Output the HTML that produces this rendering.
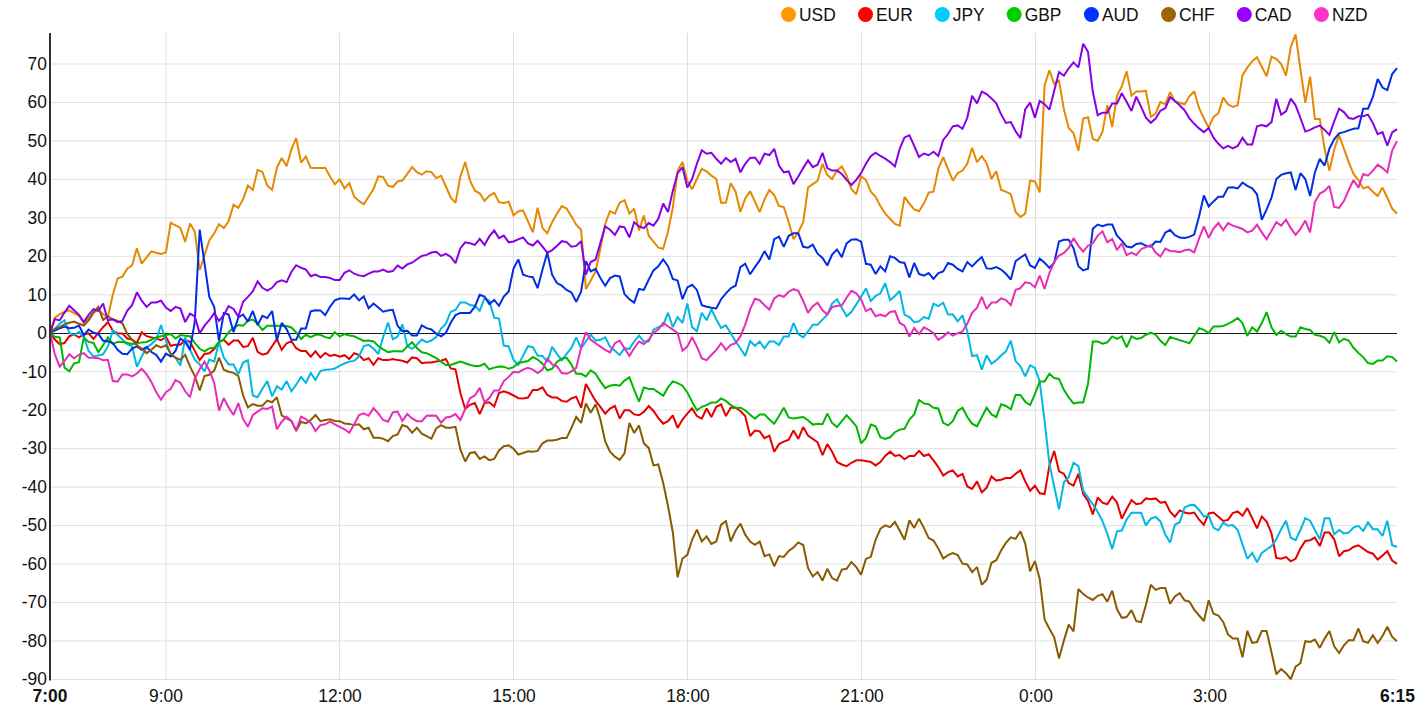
<!DOCTYPE html>
<html><head><meta charset="utf-8"><style>
html,body{margin:0;padding:0;background:#fff;width:1419px;height:710px;overflow:hidden}
svg{display:block}
.t{font-family:"Liberation Sans",sans-serif;font-size:17.4px;fill:#111}
.b{font-weight:bold}
</style></head><body>
<svg width="1419" height="710" viewBox="0 0 1419 710">
<line x1="166.0" y1="33" x2="166.0" y2="680" stroke="#e0e0e0" stroke-width="1"/>
<line x1="339.5" y1="33" x2="339.5" y2="680" stroke="#e0e0e0" stroke-width="1"/>
<line x1="513.5" y1="33" x2="513.5" y2="680" stroke="#e0e0e0" stroke-width="1"/>
<line x1="687.5" y1="33" x2="687.5" y2="680" stroke="#e0e0e0" stroke-width="1"/>
<line x1="861.5" y1="33" x2="861.5" y2="680" stroke="#e0e0e0" stroke-width="1"/>
<line x1="1035.5" y1="33" x2="1035.5" y2="680" stroke="#e0e0e0" stroke-width="1"/>
<line x1="1209.5" y1="33" x2="1209.5" y2="680" stroke="#e0e0e0" stroke-width="1"/>
<line x1="51" y1="679.5" x2="1397" y2="679.5" stroke="#e0e0e0" stroke-width="1"/>
<line x1="51" y1="641.03" x2="1397" y2="641.03" stroke="#e0e0e0" stroke-width="1"/>
<line x1="51" y1="602.56" x2="1397" y2="602.56" stroke="#e0e0e0" stroke-width="1"/>
<line x1="51" y1="564.09" x2="1397" y2="564.09" stroke="#e0e0e0" stroke-width="1"/>
<line x1="51" y1="525.62" x2="1397" y2="525.62" stroke="#e0e0e0" stroke-width="1"/>
<line x1="51" y1="487.15" x2="1397" y2="487.15" stroke="#e0e0e0" stroke-width="1"/>
<line x1="51" y1="448.68" x2="1397" y2="448.68" stroke="#e0e0e0" stroke-width="1"/>
<line x1="51" y1="410.21" x2="1397" y2="410.21" stroke="#e0e0e0" stroke-width="1"/>
<line x1="51" y1="371.74" x2="1397" y2="371.74" stroke="#e0e0e0" stroke-width="1"/>
<line x1="51" y1="294.8" x2="1397" y2="294.8" stroke="#e0e0e0" stroke-width="1"/>
<line x1="51" y1="256.33" x2="1397" y2="256.33" stroke="#e0e0e0" stroke-width="1"/>
<line x1="51" y1="217.86" x2="1397" y2="217.86" stroke="#e0e0e0" stroke-width="1"/>
<line x1="51" y1="179.39" x2="1397" y2="179.39" stroke="#e0e0e0" stroke-width="1"/>
<line x1="51" y1="140.92" x2="1397" y2="140.92" stroke="#e0e0e0" stroke-width="1"/>
<line x1="51" y1="102.45" x2="1397" y2="102.45" stroke="#e0e0e0" stroke-width="1"/>
<line x1="51" y1="63.98" x2="1397" y2="63.98" stroke="#e0e0e0" stroke-width="1"/>
<text transform="translate(46.8,685.30) scale(1,1.06)" text-anchor="end" class="t">-90</text>
<text transform="translate(46.8,646.83) scale(1,1.06)" text-anchor="end" class="t">-80</text>
<text transform="translate(46.8,608.36) scale(1,1.06)" text-anchor="end" class="t">-70</text>
<text transform="translate(46.8,569.89) scale(1,1.06)" text-anchor="end" class="t">-60</text>
<text transform="translate(46.8,531.42) scale(1,1.06)" text-anchor="end" class="t">-50</text>
<text transform="translate(46.8,492.95) scale(1,1.06)" text-anchor="end" class="t">-40</text>
<text transform="translate(46.8,454.48) scale(1,1.06)" text-anchor="end" class="t">-30</text>
<text transform="translate(46.8,416.01) scale(1,1.06)" text-anchor="end" class="t">-20</text>
<text transform="translate(46.8,377.54) scale(1,1.06)" text-anchor="end" class="t">-10</text>
<text transform="translate(46.8,339.07) scale(1,1.06)" text-anchor="end" class="t">0</text>
<text transform="translate(46.8,300.60) scale(1,1.06)" text-anchor="end" class="t">10</text>
<text transform="translate(46.8,262.13) scale(1,1.06)" text-anchor="end" class="t">20</text>
<text transform="translate(46.8,223.66) scale(1,1.06)" text-anchor="end" class="t">30</text>
<text transform="translate(46.8,185.19) scale(1,1.06)" text-anchor="end" class="t">40</text>
<text transform="translate(46.8,146.72) scale(1,1.06)" text-anchor="end" class="t">50</text>
<text transform="translate(46.8,108.25) scale(1,1.06)" text-anchor="end" class="t">60</text>
<text transform="translate(46.8,69.78) scale(1,1.06)" text-anchor="end" class="t">70</text>
<text transform="translate(50.0,702.0) scale(1,1.06)" text-anchor="middle" class="t b">7:00</text>
<text transform="translate(166.0,702.0) scale(1,1.06)" text-anchor="middle" class="t">9:00</text>
<text transform="translate(340.0,702.0) scale(1,1.06)" text-anchor="middle" class="t">12:00</text>
<text transform="translate(514.0,702.0) scale(1,1.06)" text-anchor="middle" class="t">15:00</text>
<text transform="translate(688.0,702.0) scale(1,1.06)" text-anchor="middle" class="t">18:00</text>
<text transform="translate(862.0,702.0) scale(1,1.06)" text-anchor="middle" class="t">21:00</text>
<text transform="translate(1036.0,702.0) scale(1,1.06)" text-anchor="middle" class="t">0:00</text>
<text transform="translate(1210.0,702.0) scale(1,1.06)" text-anchor="middle" class="t">3:00</text>
<text transform="translate(1397.5,702.0) scale(1,1.06)" text-anchor="middle" class="t b">6:15</text>
<line x1="51" y1="333.5" x2="1397" y2="333.5" stroke="#1a1a1a" stroke-width="1"/>
<polyline points="50.0,332.8 54.8,317.6 59.7,314.2 64.5,312.0 69.3,310.3 74.1,313.1 79.0,315.9 83.8,322.7 88.6,318.2 93.5,312.6 98.3,309.7 103.1,314.2 107.9,317.1 112.8,294.7 117.6,278.5 122.4,276.8 127.2,268.8 132.1,265.4 136.9,248.2 141.7,263.7 146.6,257.3 151.4,251.3 156.2,252.7 161.0,254.0 165.9,252.4 170.7,222.9 175.5,225.4 180.4,227.9 185.2,241.8 190.0,223.4 194.8,231.7 199.7,270.2 204.5,255.3 209.3,240.4 214.2,233.3 219.0,224.3 223.8,228.0 228.6,221.4 233.5,204.9 238.3,207.9 243.1,199.2 247.9,185.6 252.8,189.9 257.6,169.8 262.4,171.9 267.3,185.6 272.1,189.9 276.9,167.7 281.7,157.9 286.6,166.2 291.4,149.4 296.2,138.2 301.1,162.6 305.9,156.4 310.7,167.8 315.5,168.1 320.4,167.9 325.2,167.8 330.0,176.4 334.8,184.2 339.7,179.3 344.5,188.5 349.3,183.1 354.2,196.7 359.0,200.9 363.8,204.3 368.6,196.7 373.5,189.0 378.3,176.4 383.1,176.9 388.0,185.7 392.8,187.0 397.6,181.4 402.4,180.6 407.3,173.8 412.1,167.1 416.9,172.1 421.8,174.7 426.6,171.3 431.4,172.1 436.2,178.1 441.1,175.9 445.9,186.5 450.7,197.5 455.5,202.9 460.4,176.4 465.2,162.0 470.0,180.6 474.9,190.7 479.7,193.3 484.5,200.9 489.3,195.8 494.2,192.8 499.0,202.2 503.8,202.9 508.7,201.7 513.5,215.3 518.3,211.5 523.1,210.3 528.0,221.3 532.8,232.3 537.6,207.8 542.5,228.1 547.3,233.2 552.1,222.2 556.9,213.7 561.8,206.1 566.6,208.6 571.4,216.3 576.2,224.7 581.1,229.8 585.9,289.0 590.7,280.6 595.6,271.3 600.4,248.4 605.2,223.9 610.0,211.2 614.9,213.7 619.7,202.7 624.5,200.2 629.4,213.7 634.2,208.6 639.0,230.6 643.8,215.4 648.7,235.7 653.5,241.6 658.3,247.6 663.2,248.8 668.0,231.5 672.8,207.8 677.6,170.6 682.5,162.1 687.3,180.7 692.1,189.2 696.9,179.0 701.8,168.9 706.6,171.4 711.4,175.7 716.3,179.0 721.1,202.7 725.9,202.7 730.7,183.3 735.6,191.7 740.4,212.0 745.2,198.5 750.1,191.3 754.9,201.5 759.7,212.0 764.5,199.3 769.4,190.0 774.2,195.1 779.0,206.1 783.8,207.0 788.7,222.2 793.5,239.1 798.3,232.3 803.2,222.2 808.0,187.5 812.8,184.1 817.6,180.7 822.5,163.8 827.3,174.8 832.1,179.0 837.0,170.6 841.8,166.4 846.6,175.7 851.4,189.2 856.3,194.3 861.1,176.5 865.9,179.9 870.8,191.7 875.6,196.8 880.4,206.1 885.2,213.7 890.1,218.8 894.9,223.9 899.7,225.6 904.5,196.8 909.4,203.6 914.2,209.5 919.0,211.2 923.9,203.6 928.7,192.6 933.5,191.7 938.3,168.9 943.2,157.1 948.0,168.9 952.8,180.7 957.7,173.1 962.5,170.6 967.3,163.8 972.1,147.8 977.0,162.1 981.8,156.2 986.6,163.3 991.5,178.9 996.3,171.3 1001.1,189.9 1005.9,191.6 1010.8,194.1 1015.6,211.9 1020.4,217.0 1025.2,213.6 1030.1,180.6 1034.9,181.4 1039.7,192.4 1044.6,85.2 1049.4,70.4 1054.2,83.9 1059.0,80.6 1063.9,109.3 1068.7,127.9 1073.5,133.0 1078.4,150.8 1083.2,118.6 1088.0,117.3 1092.8,138.9 1097.7,141.0 1102.5,131.7 1107.3,105.1 1112.2,127.0 1117.0,95.7 1121.8,86.4 1126.6,71.2 1131.5,95.7 1136.3,91.5 1141.1,91.5 1145.9,90.7 1150.8,116.9 1155.6,113.5 1160.4,101.8 1165.3,104.3 1170.1,92.1 1174.9,101.4 1179.7,102.7 1184.6,104.3 1189.4,96.3 1194.2,91.2 1199.1,108.2 1203.9,118.3 1208.7,127.6 1213.5,117.0 1218.4,113.2 1223.2,97.6 1228.0,104.3 1232.8,106.9 1237.7,105.2 1242.5,75.2 1247.3,67.6 1252.2,61.2 1257.0,57.4 1261.8,66.7 1266.6,76.4 1271.5,56.6 1276.3,59.1 1281.1,63.9 1286.0,75.7 1290.8,47.0 1295.6,34.3 1300.4,69.0 1305.3,102.8 1310.1,76.6 1314.9,118.9 1319.8,118.9 1324.6,148.7 1329.4,170.7 1334.2,149.5 1339.1,135.1 1343.9,148.7 1348.7,162.2 1353.5,174.0 1358.4,180.0 1363.2,188.4 1368.0,186.7 1372.9,191.8 1377.7,196.0 1382.5,187.6 1387.3,197.7 1392.2,208.7 1397.0,213.8" fill="none" stroke="#e58900" stroke-width="2" stroke-linejoin="miter" stroke-miterlimit="2"/>
<polyline points="50.0,332.8 54.8,339.6 59.7,344.1 64.5,343.0 69.3,336.2 74.1,334.5 79.0,337.4 83.8,334.5 88.6,333.4 93.5,339.0 98.3,332.8 103.1,327.2 107.9,322.1 112.8,330.6 117.6,333.4 122.4,333.4 127.2,338.5 132.1,339.6 136.9,343.0 141.7,332.3 146.6,336.2 151.4,337.4 156.2,338.5 161.0,340.2 165.9,336.8 170.7,345.8 175.5,344.7 180.4,344.7 185.2,340.2 190.0,341.9 194.8,350.9 199.7,360.2 204.5,353.9 209.3,353.3 214.2,349.1 219.0,342.0 223.8,339.9 228.6,344.8 233.5,340.6 238.3,340.6 243.1,346.9 247.9,346.2 252.8,337.8 257.6,351.9 262.4,354.7 267.3,353.3 272.1,346.2 276.9,339.2 281.7,349.8 286.6,343.2 291.4,341.3 296.2,348.2 301.1,351.0 305.9,351.0 310.7,356.7 315.5,351.3 320.4,357.5 325.2,352.9 330.0,355.9 334.8,354.8 339.7,356.7 344.5,355.2 349.3,359.0 354.2,353.2 359.0,355.2 363.8,360.1 368.6,358.2 373.5,364.8 378.3,358.2 383.1,360.1 388.0,360.1 392.8,359.0 397.6,360.1 402.4,360.8 407.3,362.5 412.1,357.4 416.9,358.2 421.8,363.3 426.6,362.5 431.4,362.5 436.2,361.6 441.1,360.8 445.9,359.1 450.7,368.4 455.5,369.3 460.4,393.0 465.2,409.0 470.0,404.8 474.9,403.1 479.7,414.1 484.5,403.1 489.3,402.3 494.2,406.5 499.0,393.0 503.8,391.3 508.7,393.0 513.5,395.5 518.3,398.2 523.1,398.4 528.0,397.5 532.8,389.9 537.6,389.9 542.5,387.4 547.3,395.0 552.1,397.5 556.9,397.5 561.8,400.9 566.6,401.7 571.4,398.4 576.2,396.7 581.1,407.7 585.9,384.0 590.7,392.4 595.6,400.9 600.4,406.8 605.2,413.6 610.0,408.5 614.9,406.0 619.7,418.6 624.5,410.2 629.4,410.2 634.2,414.4 639.0,415.3 643.8,411.9 648.7,406.0 653.5,411.0 658.3,417.8 663.2,423.7 668.0,421.2 672.8,415.3 677.6,427.9 682.5,419.5 687.3,413.6 692.1,408.5 696.9,416.1 701.8,418.6 706.6,408.5 711.4,417.0 716.3,406.8 721.1,404.3 725.9,416.1 730.7,407.7 735.6,407.7 740.4,411.0 745.2,416.1 750.1,436.0 754.9,430.5 759.7,431.3 764.5,438.1 769.4,435.6 774.2,451.7 779.0,444.1 783.8,441.6 788.7,439.8 793.5,430.5 798.3,438.9 803.2,427.1 808.0,435.6 812.8,438.9 817.6,442.3 822.5,455.1 827.3,444.1 832.1,451.7 837.0,462.0 841.8,464.5 846.6,466.2 851.4,462.8 856.3,460.3 861.1,460.3 865.9,461.1 870.8,462.0 875.6,465.4 880.4,462.0 885.2,456.0 890.1,451.7 894.9,456.0 899.7,455.1 904.5,459.3 909.4,456.0 914.2,456.0 919.0,450.9 923.9,456.0 928.7,454.3 933.5,460.3 938.3,467.1 943.2,475.5 948.0,472.1 952.8,470.4 957.7,476.4 962.5,473.8 967.3,486.5 972.1,489.0 977.0,481.4 981.8,492.4 986.6,487.8 991.5,476.4 996.3,480.6 1001.1,479.7 1005.9,478.1 1010.8,478.1 1015.6,473.8 1020.4,470.4 1025.2,481.4 1030.1,490.7 1034.9,485.7 1039.7,493.3 1044.6,494.1 1049.4,465.4 1054.2,451.0 1059.0,471.3 1063.9,473.8 1068.7,483.1 1073.5,485.7 1078.4,473.8 1083.2,494.1 1088.0,500.9 1092.8,514.4 1097.7,497.5 1102.5,502.6 1107.3,504.3 1112.2,496.7 1117.0,502.6 1121.8,518.6 1126.6,509.3 1131.5,500.0 1136.3,504.3 1141.1,503.4 1145.9,498.4 1150.8,499.2 1155.6,498.4 1160.4,502.8 1165.3,501.9 1170.1,511.7 1174.9,516.7 1179.7,510.4 1184.6,512.5 1189.4,513.4 1194.2,512.5 1199.1,519.7 1203.9,524.8 1208.7,513.4 1213.5,512.5 1218.4,516.7 1223.2,521.0 1228.0,519.9 1232.8,513.1 1237.7,511.4 1242.5,515.7 1247.3,508.1 1252.2,518.2 1257.0,528.4 1261.8,516.5 1266.6,521.6 1271.5,533.4 1276.3,557.9 1281.1,558.8 1286.0,557.1 1290.8,561.3 1295.6,558.8 1300.4,548.6 1305.3,541.0 1310.1,540.2 1314.9,537.7 1319.8,546.1 1324.6,532.6 1329.4,532.6 1334.2,539.3 1339.1,556.3 1343.9,551.2 1348.7,550.3 1353.5,547.0 1358.4,545.3 1363.2,548.6 1368.0,552.0 1372.9,553.7 1377.7,559.6 1382.5,555.4 1387.3,551.2 1392.2,560.5 1397.0,563.9" fill="none" stroke="#e50000" stroke-width="2" stroke-linejoin="miter" stroke-miterlimit="2"/>
<polyline points="50.0,332.8 54.8,328.9 59.7,323.8 64.5,320.4 69.3,332.8 74.1,335.1 79.0,331.7 83.8,336.8 88.6,350.9 93.5,356.5 98.3,355.4 103.1,354.3 107.9,346.4 112.8,330.6 117.6,335.1 122.4,339.6 127.2,344.1 132.1,346.4 136.9,366.7 141.7,356.5 146.6,347.5 151.4,344.1 156.2,339.6 161.0,325.0 165.9,340.7 170.7,355.4 175.5,357.7 180.4,365.5 185.2,337.4 190.0,349.8 194.8,359.9 199.7,364.5 204.5,371.5 209.3,359.6 214.2,361.7 219.0,342.0 223.8,357.5 228.6,364.4 233.5,364.5 238.3,374.1 243.1,362.6 247.9,360.3 252.8,395.5 257.6,397.2 262.4,388.8 267.3,381.1 272.1,396.4 276.9,386.2 281.7,389.6 286.6,381.1 291.4,391.3 296.2,384.5 301.1,376.9 305.9,382.8 310.7,372.9 315.5,379.9 320.4,371.0 325.2,369.8 330.0,369.6 334.8,368.5 339.7,365.6 344.5,363.5 349.3,361.6 354.2,360.9 359.0,356.3 363.8,346.0 368.6,344.8 373.5,348.6 378.3,354.0 383.1,337.2 388.0,322.5 392.8,339.3 397.6,336.7 402.4,324.4 407.3,346.4 412.1,348.9 416.9,344.7 421.8,339.6 426.6,342.2 431.4,340.5 436.2,337.1 441.1,328.6 445.9,323.6 450.7,311.7 455.5,310.0 460.4,302.4 465.2,302.4 470.0,305.0 474.9,305.8 479.7,310.9 484.5,298.2 489.3,300.7 494.2,317.7 499.0,318.5 503.8,345.6 508.7,346.4 513.5,359.9 518.3,365.0 523.1,355.6 528.0,346.2 532.8,347.1 537.6,355.5 542.5,356.0 547.3,362.0 552.1,346.7 556.9,353.8 561.8,360.3 566.6,353.8 571.4,347.9 576.2,337.3 581.1,348.2 585.9,341.5 590.7,334.7 595.6,340.6 600.4,339.8 605.2,337.3 610.0,346.6 614.9,350.8 619.7,355.0 624.5,348.2 629.4,349.1 634.2,341.5 639.0,335.6 643.8,341.5 648.7,341.5 653.5,329.6 658.3,327.1 663.2,325.4 668.0,312.7 672.8,327.1 677.6,317.0 682.5,322.9 687.3,303.4 692.1,327.1 696.9,331.3 701.8,312.7 706.6,320.3 711.4,309.3 716.3,319.5 721.1,327.9 725.9,325.4 730.7,333.0 735.6,341.5 740.4,348.2 745.2,355.9 750.1,341.1 754.9,345.8 759.7,341.6 764.5,348.4 769.4,341.6 774.2,341.6 779.0,345.0 783.8,336.6 788.7,336.6 793.5,323.0 798.3,334.0 803.2,337.4 808.0,331.5 812.8,324.7 817.6,324.7 822.5,319.6 827.3,314.6 832.1,303.6 837.0,299.3 841.8,307.8 846.6,316.3 851.4,312.0 856.3,304.4 861.1,296.8 865.9,288.4 870.8,301.0 875.6,296.0 880.4,293.4 885.2,283.3 890.1,300.2 894.9,296.0 899.7,290.9 904.5,314.6 909.4,317.1 914.2,322.2 919.0,321.3 923.9,317.1 928.7,318.8 933.5,303.6 938.3,306.1 943.2,302.7 948.0,314.6 952.8,314.6 957.7,321.3 962.5,315.4 967.3,331.5 972.1,356.1 977.0,355.2 981.8,369.6 986.6,355.2 991.5,363.7 996.3,360.2 1001.1,355.5 1005.9,351.3 1010.8,340.7 1015.6,361.1 1020.4,366.2 1025.2,376.4 1030.1,365.4 1034.9,367.9 1039.7,381.4 1044.6,421.2 1049.4,463.7 1054.2,486.5 1059.0,509.3 1063.9,482.3 1068.7,477.2 1073.5,462.8 1078.4,466.2 1083.2,490.7 1088.0,497.5 1092.8,504.3 1097.7,511.9 1102.5,521.2 1107.3,533.9 1112.2,549.1 1117.0,531.3 1121.8,530.5 1126.6,519.5 1131.5,512.7 1136.3,512.7 1141.1,512.7 1145.9,525.4 1150.8,518.6 1155.6,517.0 1160.4,521.4 1165.3,534.5 1170.1,542.5 1174.9,524.8 1179.7,522.2 1184.6,507.4 1189.4,505.3 1194.2,504.9 1199.1,510.0 1203.9,516.7 1208.7,515.5 1213.5,527.7 1218.4,530.3 1223.2,522.7 1228.0,525.8 1232.8,525.0 1237.7,530.0 1242.5,544.4 1247.3,558.8 1252.2,552.9 1257.0,562.2 1261.8,552.9 1266.6,549.5 1271.5,546.1 1276.3,539.3 1281.1,529.2 1286.0,520.7 1290.8,537.7 1295.6,540.2 1300.4,530.0 1305.3,518.2 1310.1,520.7 1314.9,530.0 1319.8,539.3 1324.6,518.2 1329.4,518.2 1334.2,534.3 1339.1,530.0 1343.9,533.4 1348.7,532.6 1353.5,527.5 1358.4,525.8 1363.2,530.9 1368.0,522.4 1372.9,529.2 1377.7,529.2 1382.5,536.0 1387.3,520.7 1392.2,545.3 1397.0,547.0" fill="none" stroke="#00b7e5" stroke-width="2" stroke-linejoin="miter" stroke-miterlimit="2"/>
<polyline points="50.0,332.8 54.8,336.8 59.7,337.4 64.5,367.8 69.3,371.2 74.1,363.3 79.0,362.2 83.8,337.4 88.6,341.9 93.5,343.0 98.3,352.0 103.1,345.3 107.9,337.4 112.8,344.1 117.6,341.9 122.4,341.9 127.2,343.0 132.1,344.1 136.9,343.6 141.7,342.4 146.6,341.9 151.4,339.6 156.2,337.4 161.0,336.2 165.9,335.1 170.7,334.0 175.5,338.5 180.4,335.1 185.2,335.7 190.0,336.2 194.8,343.0 199.7,348.8 204.5,351.3 209.3,348.4 214.2,347.7 219.0,342.0 223.8,339.2 228.6,332.1 233.5,327.9 238.3,325.1 243.1,325.8 247.9,320.9 252.8,319.5 257.6,323.7 262.4,330.0 267.3,325.8 272.1,325.8 276.9,325.8 281.7,326.0 286.6,326.0 291.4,327.5 296.2,332.5 301.1,339.0 305.9,334.8 310.7,337.1 315.5,334.8 320.4,334.8 325.2,337.1 330.0,338.2 334.8,332.1 339.7,336.3 344.5,334.0 349.3,335.5 354.2,336.3 359.0,338.6 363.8,340.9 368.6,340.5 373.5,341.4 378.3,346.0 383.1,349.4 388.0,352.1 392.8,351.3 397.6,351.3 402.4,351.5 407.3,346.4 412.1,342.2 416.9,348.1 421.8,352.3 426.6,353.2 431.4,355.7 436.2,358.2 441.1,361.6 445.9,365.0 450.7,365.0 455.5,363.3 460.4,361.6 465.2,363.3 470.0,365.0 474.9,365.9 479.7,365.9 484.5,363.8 489.3,369.3 494.2,367.6 499.0,366.6 503.8,366.7 508.7,368.8 513.5,367.2 518.3,362.9 523.1,362.0 528.0,361.1 532.8,356.9 537.6,359.5 542.5,363.7 547.3,370.4 552.1,368.8 556.9,362.0 561.8,358.6 566.6,357.8 571.4,364.5 576.2,373.8 581.1,373.8 585.9,376.4 590.7,370.4 595.6,373.8 600.4,381.4 605.2,388.2 610.0,385.7 614.9,384.8 619.7,385.7 624.5,380.6 629.4,377.2 634.2,389.9 639.0,401.7 643.8,387.4 648.7,389.0 653.5,389.0 658.3,392.4 663.2,395.8 668.0,387.4 672.8,381.4 677.6,383.1 682.5,385.7 687.3,392.4 692.1,401.7 696.9,410.2 701.8,406.8 706.6,405.1 711.4,402.6 716.3,402.6 721.1,398.4 725.9,400.9 730.7,405.1 735.6,407.7 740.4,407.7 745.2,410.2 750.1,414.8 754.9,418.6 759.7,414.4 764.5,414.4 769.4,419.5 774.2,423.7 779.0,416.1 783.8,407.7 788.7,417.5 793.5,418.6 798.3,417.8 803.2,417.0 808.0,420.3 812.8,424.6 817.6,423.7 822.5,424.2 827.3,413.6 832.1,422.9 837.0,427.1 841.8,421.2 846.6,415.3 851.4,420.3 856.3,426.3 861.1,443.2 865.9,438.1 870.8,424.6 875.6,426.3 880.4,437.3 885.2,438.9 890.1,437.3 894.9,432.2 899.7,429.6 904.5,428.8 909.4,419.5 914.2,414.4 919.0,400.0 923.9,403.4 928.7,404.3 933.5,407.7 938.3,408.5 943.2,422.9 948.0,425.4 952.8,421.2 957.7,411.0 962.5,407.7 967.3,417.0 972.1,423.7 977.0,426.3 981.8,417.0 986.6,407.7 991.5,414.4 996.3,417.0 1001.1,404.3 1005.9,406.0 1010.8,409.3 1015.6,395.0 1020.4,395.0 1025.2,401.7 1030.1,405.1 1034.9,394.1 1039.7,381.4 1044.6,381.4 1049.4,373.8 1054.2,378.1 1059.0,378.9 1063.9,389.9 1068.7,397.5 1073.5,403.4 1078.4,402.6 1083.2,402.6 1088.0,384.0 1092.8,341.6 1097.7,341.6 1102.5,343.7 1107.3,342.3 1112.2,336.4 1117.0,338.9 1121.8,336.4 1126.6,347.4 1131.5,336.4 1136.3,338.9 1141.1,338.1 1145.9,334.7 1150.8,332.7 1155.6,334.7 1160.4,340.7 1165.3,345.0 1170.1,336.9 1174.9,338.6 1179.7,340.3 1184.6,341.6 1189.4,343.3 1194.2,335.7 1199.1,328.1 1203.9,329.8 1208.7,333.1 1213.5,326.4 1218.4,326.4 1223.2,325.9 1228.0,323.9 1232.8,321.4 1237.7,318.0 1242.5,323.1 1247.3,335.8 1252.2,327.3 1257.0,331.6 1261.8,323.1 1266.6,312.1 1271.5,327.3 1276.3,334.9 1281.1,330.7 1286.0,334.1 1290.8,336.6 1295.6,336.6 1300.4,327.3 1305.3,329.0 1310.1,329.9 1314.9,334.9 1319.8,335.8 1324.6,337.5 1329.4,342.7 1334.2,332.1 1339.1,342.2 1343.9,338.8 1348.7,340.5 1353.5,347.8 1358.4,352.9 1363.2,357.1 1368.0,363.1 1372.9,363.9 1377.7,360.5 1382.5,360.5 1387.3,356.3 1392.2,357.1 1397.0,361.4" fill="none" stroke="#00b700" stroke-width="2" stroke-linejoin="miter" stroke-miterlimit="2"/>
<polyline points="50.0,332.8 54.8,330.6 59.7,328.3 64.5,326.6 69.3,328.3 74.1,327.8 79.0,325.5 83.8,335.1 88.6,329.5 93.5,332.8 98.3,334.0 103.1,340.7 107.9,341.3 112.8,343.0 117.6,349.8 122.4,353.7 127.2,354.3 132.1,348.6 136.9,346.4 141.7,349.8 146.6,346.9 151.4,352.0 156.2,354.8 161.0,361.6 165.9,353.7 170.7,356.5 175.5,350.9 180.4,338.5 185.2,341.9 190.0,349.8 194.8,321.6 199.7,229.6 204.5,263.3 209.3,296.9 214.2,306.8 219.0,340.6 223.8,313.1 228.6,314.5 233.5,332.1 238.3,317.4 243.1,314.5 247.9,321.6 252.8,311.0 257.6,325.1 262.4,315.9 267.3,318.1 272.1,311.0 276.9,340.6 281.7,322.9 286.6,329.1 291.4,339.8 296.2,339.8 301.1,328.6 305.9,328.6 310.7,311.4 315.5,310.2 320.4,310.4 325.2,315.2 330.0,306.7 334.8,300.4 339.7,298.5 344.5,298.5 349.3,299.0 354.2,294.5 359.0,300.4 363.8,296.4 368.6,308.3 373.5,303.5 378.3,307.5 383.1,311.7 388.0,310.4 392.8,309.8 397.6,325.8 402.4,331.2 407.3,330.8 412.1,335.4 416.9,335.4 421.8,325.3 426.6,328.1 431.4,329.5 436.2,333.7 441.1,336.3 445.9,332.9 450.7,322.7 455.5,315.1 460.4,312.9 465.2,312.9 470.0,312.9 474.9,306.7 479.7,294.8 484.5,296.5 489.3,304.1 494.2,299.9 499.0,305.8 503.8,296.5 508.7,291.4 513.5,268.6 518.3,259.4 523.1,274.7 528.0,276.4 532.8,277.2 537.6,288.2 542.5,269.6 547.3,252.7 552.1,274.7 556.9,283.1 561.8,285.7 566.6,289.9 571.4,292.4 576.2,301.7 581.1,291.6 585.9,261.1 590.7,271.3 595.6,268.8 600.4,278.1 605.2,285.7 610.0,278.1 614.9,275.5 619.7,276.4 624.5,294.1 629.4,299.2 634.2,302.6 639.0,289.0 643.8,289.9 648.7,279.7 653.5,270.4 658.3,266.2 663.2,259.5 668.0,266.2 672.8,278.9 677.6,280.6 682.5,299.2 687.3,287.4 692.1,284.8 696.9,289.9 701.8,305.1 706.6,306.8 711.4,307.7 716.3,308.5 721.1,299.2 725.9,293.3 730.7,288.2 735.6,285.7 740.4,267.1 745.2,263.7 750.1,274.3 754.9,267.1 759.7,260.4 764.5,251.1 769.4,259.6 774.2,239.2 779.0,236.7 783.8,246.8 788.7,235.8 793.5,233.3 798.3,233.3 803.2,246.8 808.0,247.7 812.8,244.7 817.6,253.7 822.5,257.9 827.3,265.5 832.1,254.5 837.0,249.5 841.8,257.1 846.6,243.4 851.4,239.6 856.3,239.2 861.1,241.7 865.9,263.8 870.8,264.7 875.6,274.0 880.4,266.4 885.2,271.4 890.1,256.2 894.9,257.9 899.7,262.1 904.5,263.0 909.4,277.4 914.2,263.0 919.0,274.0 923.9,275.7 928.7,273.1 933.5,279.0 938.3,273.1 943.2,271.4 948.0,263.0 952.8,264.7 957.7,268.9 962.5,271.4 967.3,262.1 972.1,266.4 977.0,261.3 981.8,257.1 986.6,268.4 991.5,268.8 996.3,267.1 1001.1,269.6 1005.9,273.8 1010.8,279.7 1015.6,261.1 1020.4,257.8 1025.2,254.4 1030.1,265.4 1034.9,267.9 1039.7,258.6 1044.6,262.8 1049.4,267.9 1054.2,262.8 1059.0,241.5 1063.9,239.8 1068.7,239.8 1073.5,248.2 1078.4,266.2 1083.2,270.4 1088.0,268.8 1092.8,228.8 1097.7,224.6 1102.5,226.3 1107.3,224.6 1112.2,224.6 1117.0,235.6 1121.8,240.6 1126.6,246.6 1131.5,247.4 1136.3,244.0 1141.1,243.2 1145.9,245.7 1150.8,246.6 1155.6,241.5 1160.4,242.0 1165.3,232.7 1170.1,229.8 1174.9,235.2 1179.7,237.6 1184.6,238.0 1189.4,236.9 1194.2,234.6 1199.1,216.2 1203.9,195.5 1208.7,206.5 1213.5,201.4 1218.4,196.8 1223.2,196.8 1228.0,187.6 1232.8,187.2 1237.7,188.4 1242.5,182.5 1247.3,185.9 1252.2,188.4 1257.0,194.3 1261.8,219.7 1266.6,209.6 1271.5,197.7 1276.3,179.1 1281.1,174.9 1286.0,173.2 1290.8,172.4 1295.6,190.1 1300.4,173.2 1305.3,179.1 1310.1,196.0 1314.9,172.4 1319.8,158.8 1324.6,165.6 1329.4,148.7 1334.2,139.3 1339.1,133.4 1343.9,132.1 1348.7,130.4 1353.5,128.7 1358.4,128.3 1363.2,108.7 1368.0,108.7 1372.9,96.9 1377.7,79.1 1382.5,87.6 1387.3,90.1 1392.2,74.0 1397.0,68.1" fill="none" stroke="#002de5" stroke-width="2" stroke-linejoin="miter" stroke-miterlimit="2"/>
<polyline points="50.0,332.8 54.8,328.9 59.7,327.2 64.5,324.4 69.3,322.7 74.1,321.6 79.0,323.8 83.8,325.5 88.6,320.4 93.5,312.6 98.3,306.9 103.1,319.9 107.9,316.5 112.8,319.3 117.6,321.0 122.4,323.3 127.2,334.0 132.1,339.6 136.9,345.3 141.7,348.6 146.6,353.1 151.4,349.8 156.2,345.3 161.0,347.5 165.9,345.3 170.7,353.7 175.5,357.7 180.4,359.9 185.2,354.8 190.0,366.4 194.8,376.1 199.7,390.4 204.5,376.0 209.3,374.8 214.2,370.6 219.0,357.7 223.8,369.8 228.6,371.7 233.5,372.9 238.3,376.0 243.1,395.5 247.9,407.4 252.8,404.0 257.6,405.7 262.4,405.7 267.3,400.6 272.1,402.3 276.9,397.2 281.7,415.4 286.6,418.4 291.4,420.9 296.2,431.0 301.1,421.7 305.9,423.4 310.7,420.0 315.5,415.0 320.4,421.2 325.2,420.0 330.0,419.2 334.8,420.9 339.7,421.2 344.5,423.4 349.3,423.9 354.2,425.1 359.0,424.3 363.8,429.3 368.6,427.7 373.5,437.8 378.3,437.8 383.1,438.6 388.0,441.2 392.8,436.1 397.6,434.4 402.4,425.1 407.3,426.8 412.1,432.7 416.9,427.7 421.8,433.6 426.6,436.1 431.4,438.6 436.2,428.5 441.1,425.1 445.9,427.7 450.7,427.7 455.5,426.8 460.4,449.6 465.2,461.5 470.0,453.0 474.9,452.2 479.7,458.9 484.5,456.4 489.3,460.1 494.2,458.9 499.0,450.5 503.8,446.3 508.7,445.4 513.5,448.8 518.3,454.5 523.1,453.0 528.0,451.3 532.8,451.7 537.6,450.9 542.5,443.3 547.3,440.6 552.1,440.6 556.9,439.8 561.8,438.1 566.6,438.1 571.4,427.9 576.2,417.0 581.1,422.9 585.9,403.4 590.7,412.7 595.6,404.3 600.4,419.5 605.2,441.5 610.0,451.6 614.9,456.7 619.7,459.8 624.5,453.4 629.4,422.9 634.2,433.0 639.0,425.4 643.8,443.3 648.7,447.9 653.5,465.4 658.3,464.5 663.2,483.1 668.0,506.0 672.8,532.2 677.6,577.2 682.5,558.5 687.3,554.9 692.1,539.8 696.9,529.6 701.8,541.5 706.6,536.4 711.4,544.0 716.3,541.5 721.1,524.6 725.9,521.2 730.7,541.5 735.6,530.5 740.4,523.7 745.2,534.7 750.1,541.6 754.9,544.9 759.7,541.6 764.5,556.1 769.4,554.4 774.2,566.2 779.0,556.1 783.8,556.9 788.7,550.9 793.5,547.5 798.3,542.4 803.2,545.0 808.0,567.9 812.8,576.4 817.6,572.1 822.5,580.6 827.3,568.8 832.1,578.1 837.0,580.6 841.8,569.6 846.6,568.8 851.4,562.0 856.3,567.1 861.1,574.7 865.9,558.9 870.8,556.8 875.6,539.8 880.4,528.8 885.2,525.4 890.1,527.1 894.9,522.0 899.7,530.5 904.5,539.8 909.4,520.3 914.2,527.9 919.0,518.6 923.9,527.9 928.7,538.1 933.5,540.6 938.3,548.4 943.2,558.5 948.0,555.1 952.8,553.0 957.7,555.1 962.5,563.7 967.3,564.5 972.1,572.1 977.0,567.1 981.8,584.8 986.6,579.7 991.5,562.8 996.3,560.2 1001.1,550.5 1005.9,542.9 1010.8,537.3 1015.6,538.9 1020.4,531.3 1025.2,543.3 1030.1,571.3 1034.9,561.1 1039.7,578.9 1044.6,619.5 1049.4,628.8 1054.2,637.3 1059.0,658.4 1063.9,640.6 1068.7,624.6 1073.5,631.3 1078.4,589.0 1083.2,594.1 1088.0,597.5 1092.8,600.0 1097.7,595.8 1102.5,594.1 1107.3,601.7 1112.2,590.7 1117.0,609.3 1121.8,617.8 1126.6,617.0 1131.5,610.2 1136.3,621.2 1141.1,622.0 1145.9,605.1 1150.8,584.8 1155.6,589.9 1160.4,588.1 1165.3,588.1 1170.1,603.7 1174.9,596.5 1179.7,593.1 1184.6,600.3 1189.4,601.6 1194.2,609.6 1199.1,615.5 1203.9,621.0 1208.7,600.3 1213.5,613.8 1218.4,615.5 1223.2,621.9 1228.0,634.4 1232.8,638.6 1237.7,638.6 1242.5,657.3 1247.3,631.0 1252.2,642.9 1257.0,642.0 1261.8,631.0 1266.6,631.0 1271.5,652.2 1276.3,674.2 1281.1,669.1 1286.0,673.3 1290.8,679.2 1295.6,666.6 1300.4,663.2 1305.3,641.2 1310.1,642.0 1314.9,639.5 1319.8,647.9 1324.6,638.6 1329.4,631.0 1334.2,646.3 1339.1,653.0 1343.9,645.4 1348.7,640.3 1353.5,640.3 1358.4,628.5 1363.2,641.2 1368.0,642.9 1372.9,635.3 1377.7,642.9 1382.5,636.1 1387.3,626.8 1392.2,637.0 1397.0,641.2" fill="none" stroke="#895b00" stroke-width="2" stroke-linejoin="miter" stroke-miterlimit="2"/>
<polyline points="50.0,332.8 54.8,319.1 59.7,320.4 64.5,312.6 69.3,305.8 74.1,310.3 79.0,314.8 83.8,322.1 88.6,314.8 93.5,309.2 98.3,310.9 103.1,303.5 107.9,320.4 112.8,319.3 117.6,322.1 122.4,321.0 127.2,310.9 132.1,305.2 136.9,292.3 141.7,300.7 146.6,306.9 151.4,302.4 156.2,302.4 161.0,300.7 165.9,307.5 170.7,310.9 175.5,306.9 180.4,308.6 185.2,322.1 190.0,313.7 194.8,316.5 199.7,333.4 204.5,325.7 209.3,320.2 214.2,313.1 219.0,320.9 223.8,315.2 228.6,306.1 233.5,308.9 238.3,316.6 243.1,301.8 247.9,296.9 252.8,291.3 257.6,281.4 262.4,287.8 267.3,290.6 272.1,287.8 276.9,282.1 281.7,280.4 286.6,282.1 291.4,272.0 296.2,265.2 301.1,267.8 305.9,269.5 310.7,276.2 315.5,274.5 320.4,277.1 325.2,277.1 330.0,277.9 334.8,280.1 339.7,280.1 344.5,272.8 349.3,270.3 354.2,273.7 359.0,275.4 363.8,276.2 368.6,273.7 373.5,271.6 378.3,271.6 383.1,269.5 388.0,272.0 392.8,271.1 397.6,265.6 402.4,268.6 407.3,264.4 412.1,262.7 416.9,259.3 421.8,255.9 426.6,254.9 431.4,252.5 436.2,251.7 441.1,255.9 445.9,253.9 450.7,256.7 455.5,263.1 460.4,248.2 465.2,242.3 470.0,243.2 474.9,244.9 479.7,238.9 484.5,244.9 489.3,236.4 494.2,230.5 499.0,238.1 503.8,235.6 508.7,242.3 513.5,241.5 518.3,239.4 523.1,237.4 528.0,243.4 532.8,245.5 537.6,240.8 542.5,246.7 547.3,252.7 552.1,250.1 556.9,245.9 561.8,241.2 566.6,242.1 571.4,246.7 576.2,245.9 581.1,241.2 585.9,274.7 590.7,262.0 595.6,259.5 600.4,242.9 605.2,226.4 610.0,229.8 614.9,234.9 619.7,226.4 624.5,227.3 629.4,237.4 634.2,222.2 639.0,226.4 643.8,228.1 648.7,223.0 653.5,225.6 658.3,218.8 663.2,203.6 668.0,212.0 672.8,190.9 677.6,173.1 682.5,167.2 687.3,187.5 692.1,179.0 696.9,163.8 701.8,150.3 706.6,153.7 711.4,152.8 716.3,158.8 721.1,163.8 725.9,157.9 730.7,162.1 735.6,158.8 740.4,172.3 745.2,163.8 750.1,157.9 754.9,157.5 759.7,163.8 764.5,153.7 769.4,155.0 774.2,148.9 779.0,165.5 783.8,172.3 788.7,171.4 793.5,184.1 798.3,176.5 803.2,168.1 808.0,160.4 812.8,167.2 817.6,164.7 822.5,152.8 827.3,168.1 832.1,170.6 837.0,170.6 841.8,174.0 846.6,179.9 851.4,185.0 856.3,179.9 861.1,173.1 865.9,163.8 870.8,156.2 875.6,152.7 880.4,156.0 885.2,158.6 890.1,162.1 894.9,166.4 899.7,148.8 904.5,137.4 909.4,135.3 914.2,145.9 919.0,156.9 923.9,153.5 928.7,155.2 933.5,151.8 938.3,156.0 943.2,140.0 948.0,134.0 952.8,126.3 957.7,125.4 962.5,128.8 967.3,117.8 972.1,95.8 977.0,103.4 981.8,91.6 986.6,94.1 991.5,98.4 996.3,103.4 1001.1,114.4 1005.9,122.9 1010.8,122.0 1015.6,131.3 1020.4,138.1 1025.2,109.3 1030.1,102.6 1034.9,117.8 1039.7,100.9 1044.6,104.2 1049.4,109.7 1054.2,90.7 1059.0,72.1 1063.9,75.5 1068.7,68.3 1073.5,62.4 1078.4,67.4 1083.2,43.8 1088.0,51.8 1092.8,91.5 1097.7,115.2 1102.5,112.7 1107.3,112.7 1112.2,103.4 1117.0,103.4 1121.8,93.2 1126.6,101.7 1131.5,111.0 1136.3,96.6 1141.1,106.7 1145.9,117.7 1150.8,122.8 1155.6,118.6 1160.4,110.7 1165.3,108.2 1170.1,97.2 1174.9,101.0 1179.7,105.2 1184.6,110.3 1189.4,118.3 1194.2,123.8 1199.1,128.4 1203.9,132.1 1208.7,128.1 1213.5,137.7 1218.4,143.8 1223.2,148.4 1228.0,145.9 1232.8,148.4 1237.7,145.9 1242.5,137.9 1247.3,144.6 1252.2,144.6 1257.0,126.3 1261.8,125.1 1266.6,126.3 1271.5,122.1 1276.3,98.8 1281.1,114.6 1286.0,111.3 1290.8,98.6 1295.6,105.3 1300.4,118.0 1305.3,131.6 1310.1,129.9 1314.9,127.3 1319.8,125.6 1324.6,129.9 1329.4,134.9 1334.2,121.4 1339.1,108.7 1343.9,112.1 1348.7,118.0 1353.5,118.9 1358.4,116.3 1363.2,116.3 1368.0,114.6 1372.9,123.1 1377.7,134.2 1382.5,132.1 1387.3,145.6 1392.2,132.5 1397.0,129.1" fill="none" stroke="#8900e5" stroke-width="2" stroke-linejoin="miter" stroke-miterlimit="2"/>
<polyline points="50.0,332.8 54.8,354.3 59.7,366.7 64.5,361.0 69.3,354.3 74.1,358.2 79.0,354.8 83.8,353.1 88.6,357.7 93.5,357.7 98.3,358.2 103.1,360.2 107.9,359.8 112.8,381.1 117.6,381.6 122.4,374.4 127.2,374.4 132.1,376.4 136.9,373.5 141.7,368.8 146.6,374.4 151.4,382.0 156.2,392.1 161.0,399.7 165.9,392.1 170.7,388.8 175.5,380.0 180.4,382.8 185.2,391.3 190.0,397.2 194.8,378.6 199.7,369.3 204.5,361.8 209.3,370.3 214.2,382.8 219.0,410.7 223.8,398.1 228.6,407.4 233.5,415.0 238.3,403.1 243.1,419.2 247.9,426.8 252.8,415.0 257.6,411.6 262.4,408.2 267.3,409.0 272.1,406.5 276.9,429.3 281.7,421.7 286.6,416.7 291.4,420.9 296.2,430.2 301.1,416.7 305.9,419.2 310.7,422.6 315.5,431.0 320.4,425.1 325.2,424.3 330.0,421.7 334.8,424.3 339.7,426.8 344.5,429.3 349.3,432.7 354.2,424.3 359.0,415.0 363.8,413.3 368.6,415.8 373.5,408.2 378.3,413.3 383.1,420.0 388.0,421.7 392.8,412.4 397.6,411.6 402.4,420.9 407.3,414.1 412.1,418.4 416.9,421.2 421.8,421.2 426.6,415.8 431.4,415.5 436.2,415.8 441.1,422.6 445.9,417.5 450.7,416.7 455.5,414.1 460.4,420.0 465.2,409.0 470.0,398.1 474.9,395.5 479.7,387.9 484.5,402.3 489.3,398.1 494.2,390.4 499.0,390.4 503.8,381.1 508.7,376.9 513.5,371.8 518.3,372.4 523.1,369.6 528.0,367.9 532.8,369.6 537.6,373.0 542.5,369.6 547.3,358.6 552.1,364.5 556.9,366.2 561.8,373.0 566.6,373.8 571.4,371.3 576.2,367.9 581.1,347.5 585.9,332.2 590.7,339.8 595.6,343.2 600.4,346.6 605.2,349.9 610.0,352.5 614.9,343.2 619.7,340.6 624.5,348.2 629.4,355.9 634.2,348.2 639.0,341.5 643.8,344.0 648.7,339.8 653.5,333.0 658.3,329.6 663.2,322.9 668.0,326.3 672.8,329.6 677.6,333.0 682.5,350.8 687.3,346.6 692.1,337.3 696.9,346.6 701.8,358.4 706.6,360.1 711.4,355.0 716.3,349.9 721.1,343.2 725.9,349.9 730.7,344.9 735.6,343.2 740.4,336.4 745.2,324.6 750.1,309.4 754.9,298.8 759.7,300.2 764.5,305.3 769.4,309.5 774.2,298.5 779.0,295.1 783.8,296.8 788.7,291.7 793.5,289.2 798.3,290.9 803.2,301.0 808.0,312.9 812.8,306.1 817.6,302.7 822.5,310.3 827.3,314.6 832.1,307.0 837.0,306.1 841.8,305.3 846.6,297.7 851.4,290.9 856.3,293.4 861.1,299.3 865.9,311.2 870.8,308.6 875.6,316.3 880.4,314.6 885.2,316.3 890.1,312.0 894.9,311.2 899.7,323.0 904.5,325.6 909.4,336.6 914.2,328.1 919.0,334.0 923.9,327.3 928.7,329.8 933.5,333.2 938.3,339.9 943.2,336.6 948.0,332.3 952.8,335.7 957.7,333.2 962.5,331.5 967.3,323.9 972.1,312.9 977.0,307.8 981.8,296.8 986.6,309.0 991.5,302.6 996.3,302.6 1001.1,298.4 1005.9,300.0 1010.8,305.1 1015.6,289.9 1020.4,288.2 1025.2,282.3 1030.1,283.1 1034.9,287.4 1039.7,275.5 1044.6,289.0 1049.4,273.0 1054.2,262.0 1059.0,255.5 1063.9,253.0 1068.7,247.9 1073.5,238.1 1078.4,245.8 1083.2,251.7 1088.0,245.7 1092.8,243.2 1097.7,235.6 1102.5,231.3 1107.3,242.3 1112.2,238.9 1117.0,250.0 1121.8,243.3 1126.6,255.1 1131.5,252.6 1136.3,255.1 1141.1,249.2 1145.9,247.1 1150.8,245.0 1155.6,252.6 1160.4,256.6 1165.3,248.5 1170.1,251.0 1174.9,251.3 1179.7,252.1 1184.6,250.2 1189.4,249.6 1194.2,252.4 1199.1,238.3 1203.9,226.4 1208.7,237.8 1213.5,228.5 1218.4,223.0 1223.2,230.2 1228.0,223.1 1232.8,225.6 1237.7,227.3 1242.5,229.0 1247.3,232.4 1252.2,230.7 1257.0,224.8 1261.8,232.4 1266.6,239.2 1271.5,230.7 1276.3,222.3 1281.1,225.6 1286.0,219.7 1290.8,228.2 1295.6,234.9 1300.4,229.0 1305.3,220.6 1310.1,232.4 1314.9,202.0 1319.8,193.5 1324.6,191.0 1329.4,185.9 1334.2,207.0 1339.1,207.9 1343.9,201.1 1348.7,190.1 1353.5,180.0 1358.4,187.6 1363.2,174.0 1368.0,175.7 1372.9,170.7 1377.7,164.7 1382.5,168.1 1387.3,172.4 1392.2,150.4 1397.0,141.1" fill="none" stroke="#e52db7" stroke-width="2" stroke-linejoin="miter" stroke-miterlimit="2"/>
<line x1="50" y1="33" x2="50" y2="680.5" stroke="#333" stroke-width="2"/>
<circle cx="788.5" cy="14.5" r="7.5" fill="#ff9900"/>
<text transform="translate(799.0,20.5) scale(1,1.06)" class="t">USD</text>
<circle cx="865.5" cy="14.5" r="7.5" fill="#ff0000"/>
<text transform="translate(876.0,20.5) scale(1,1.06)" class="t">EUR</text>
<circle cx="942.3" cy="14.5" r="7.5" fill="#00ccff"/>
<text transform="translate(952.8,20.5) scale(1,1.06)" class="t">JPY</text>
<circle cx="1014.2" cy="14.5" r="7.5" fill="#00cc00"/>
<text transform="translate(1024.7,20.5) scale(1,1.06)" class="t">GBP</text>
<circle cx="1091.4" cy="14.5" r="7.5" fill="#0033ff"/>
<text transform="translate(1101.9,20.5) scale(1,1.06)" class="t">AUD</text>
<circle cx="1168.5" cy="14.5" r="7.5" fill="#996600"/>
<text transform="translate(1179.0,20.5) scale(1,1.06)" class="t">CHF</text>
<circle cx="1244.3" cy="14.5" r="7.5" fill="#9900ff"/>
<text transform="translate(1254.8,20.5) scale(1,1.06)" class="t">CAD</text>
<circle cx="1321.4" cy="14.5" r="7.5" fill="#ff33cc"/>
<text transform="translate(1331.9,20.5) scale(1,1.06)" class="t">NZD</text>
</svg></body></html>
